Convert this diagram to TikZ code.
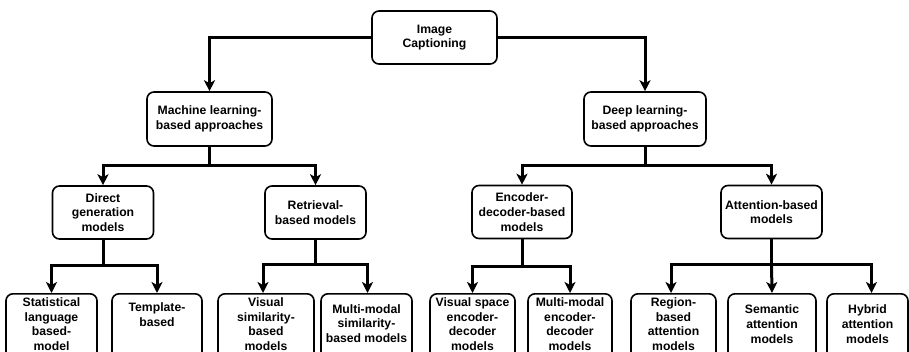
\documentclass[tikz,border=0pt]{standalone}
\usepackage{fontspec}
\setmainfont{Liberation Sans}
\usetikzlibrary{arrows.meta}
\tikzset{
  box/.style={draw, line width=1.6pt, rounded corners=7pt, inner sep=0pt},
  txt/.style={align=center, font=\bfseries\fontsize{12.2}{14.7}\selectfont, inner sep=0pt},
  boxtxt/.style={box, txt},
  conn/.style={line width=3pt, -{Stealth[length=11pt,width=11pt,inset=3pt]}},
  plainline/.style={line width=3pt},
}
\begin{document}
\begin{tikzpicture}[x=1pt,y=-1pt]
\useasboundingbox (0,0) rectangle (909,351);
% level 0
\node[boxtxt, minimum width=125pt, minimum height=53pt] (root) at (434.5,37.5) {Image\\Captioning};
% level 1
\node[boxtxt, minimum width=125pt, minimum height=54pt] (ml) at (209.5,119) {Machine learning-\\based approaches};
\node[boxtxt, minimum width=122pt, minimum height=54pt] (dl) at (645,119) {Deep learning-\\based approaches};
% level 2
\node[boxtxt, minimum width=101pt, minimum height=53pt] (direct) at (103,212.5) {Direct\\generation\\models};
\node[boxtxt, minimum width=101pt, minimum height=53pt] (retr) at (315.5,212.5) {Retrieval-\\based models};
\node[boxtxt, minimum width=100pt, minimum height=53pt] (enc) at (522,212) {Encoder-\\decoder-based\\models};
\node[boxtxt, minimum width=101pt, minimum height=53pt] (att) at (771.5,212) {Attention-based\\models};
% level 3 boxes (cut by the lower edge)
\node[box, minimum width=91pt, minimum height=80pt, anchor=north] (stat) at (51.5,293) {};
\node[box, minimum width=90pt, minimum height=80pt, anchor=north] (temp) at (157,293) {};
\node[box, minimum width=96pt, minimum height=80pt, anchor=north] (vis) at (266,293) {};
\node[box, minimum width=91pt, minimum height=80pt, anchor=north] (mms) at (366.5,293) {};
\node[box, minimum width=85pt, minimum height=80pt, anchor=north] (vsp) at (472.5,293) {};
\node[box, minimum width=84pt, minimum height=80pt, anchor=north] (mme) at (570,293) {};
\node[box, minimum width=85pt, minimum height=80pt, anchor=north] (reg) at (673.5,293) {};
\node[box, minimum width=88pt, minimum height=80pt, anchor=north] (sem) at (772,293) {};
\node[box, minimum width=81pt, minimum height=80pt, anchor=north] (hyb) at (867.5,293) {};
% level 3 texts
\node[txt] (statT) at (51.5,324) {Statistical\\language\\based-\\model};
\node[txt] (tempT) at (157,314.5) {Template-\\based};
\node[txt] (visT) at (266,324) {Visual\\similarity-\\based\\models};
\node[txt] (mmsT) at (366.5,323.5) {Multi-modal\\similarity-\\based models};
\node[txt] (vspT) at (472.5,324) {Visual space\\encoder-\\decoder\\models};
\node[txt] (mmeT) at (570,324) {Multi-modal\\encoder-\\decoder\\models};
\node[txt] (regT) at (673.5,324) {Region-\\based\\attention\\models};
\node[txt] (semT) at (772,324) {Semantic\\attention\\models};
\node[txt] (hybT) at (867.5,324) {Hybrid\\attention\\models};
% bracket junctions
\coordinate (mlb) at (209.5,165);
\coordinate (dlb) at (645,165);
\coordinate (dirb) at (103,265);
\coordinate (retb) at (315.5,264);
\coordinate (encb) at (522,266);
\coordinate (attb) at (771.5,264);
% connectors
\draw[conn] (root.west) -| (ml.north);
\draw[conn] (root.east) -| (dl.north);
\draw[plainline] (ml.south) -- (mlb);
\draw[conn] (mlb) -| (direct.north);
\draw[conn] (mlb) -| (retr.north);
\draw[plainline] (dl.south) -- (dlb);
\draw[conn] (dlb) -| (enc.north);
\draw[conn] (dlb) -| (att.north);
\draw[plainline] (direct.south) -- (dirb);
\draw[conn] (dirb) -| (stat.north);
\draw[conn] (dirb) -| (temp.north);
\draw[plainline] (retr.south) -- (retb);
\draw[conn] (retb) -| ([xshift=-3pt]vis.north);
\draw[conn] (retb) -| ([xshift=1pt]mms.north);
\draw[plainline] (enc.south) -- (encb);
\draw[conn] (encb) -| (vsp.north);
\draw[conn] (encb) -| (mme.north);
\draw[plainline] (att.south) -- (attb);
\draw[conn] (attb) -| ([xshift=-2.5pt]reg.north);
\draw[conn] (attb) -- (sem.north);
\draw[conn] (attb) -| ([xshift=4pt]hyb.north);
\end{tikzpicture}
\end{document}
